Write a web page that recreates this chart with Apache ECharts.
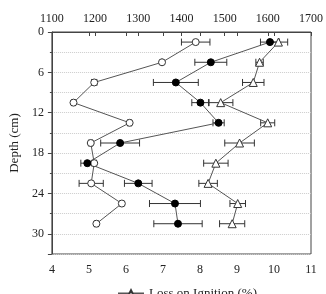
<!DOCTYPE html>
<html><head><meta charset="utf-8">
<script src="https://cdn.jsdelivr.net/npm/echarts@6/dist/echarts.min.js"></script>
<style>html,body{margin:0;padding:0;background:#fff}#c{width:326px;height:294px}</style>
</head><body><div id="c"></div>
<script>
const depths = [1.5, 4.5, 7.5, 10.5, 13.5, 16.5, 19.5, 22.5, 25.5, 28.5];
const openVals = [1433, 1355, 1198, 1150, 1280, 1190, 1198, 1191, 1262, 1203];
const openErr = [33, 0, 6, 4, 4, 4, 5, 28, 4, 4];
const filledVals = [1605, 1468, 1387, 1444, 1486, 1258, 1182, 1300, 1385, 1392];
const filledErr = [22, 37, 52, 20, 13, 45, 15, 32, 59, 56];
const loiVals = [10.12, 9.61, 9.44, 8.56, 9.83, 9.07, 8.43, 8.22, 9.02, 8.87];
const loiErr = [0.25, 0.1, 0.29, 0.33, 0.19, 0.4, 0.33, 0.25, 0.21, 0.34];
const topTicks = [1100, 1200, 1300, 1400, 1500, 1600, 1700];
const bottomTicks = [4, 5, 6, 7, 8, 9, 10, 11];
const depthTicks = [0, 6, 12, 18, 24, 30];

const font = 'Liberation Serif';
const axisCol = '#444';
const lineCol = '#555';

function pts(vals) { return vals.map((v, i) => [v, depths[i]]); }
function errData(vals, errs) { return vals.map((v, i) => [v - errs[i], v + errs[i], depths[i]]); }
function errSeries(vals, errs, xi) {
  return {
    type: 'custom', xAxisIndex: xi, yAxisIndex: 0, silent: true, z: 1,
    data: errData(vals, errs),
    encode: { x: [0, 1], y: 2 },
    renderItem: function (params, api) {
      const a = api.coord([api.value(0), api.value(2)]);
      const b = api.coord([api.value(1), api.value(2)]);
      const h = 3.5;
      const st = { stroke: '#333', lineWidth: 1, fill: null };
      return { type: 'group', children: [
        { type: 'line', shape: { x1: a[0], y1: a[1], x2: b[0], y2: b[1] }, style: st },
        { type: 'line', shape: { x1: a[0], y1: a[1] - h, x2: a[0], y2: a[1] + h }, style: st },
        { type: 'line', shape: { x1: b[0], y1: b[1] - h, x2: b[0], y2: b[1] + h }, style: st }
      ]};
    }
  };
}

const chart = echarts.init(document.getElementById('c'));
chart.setOption({
  animation: false,
  grid: { left: 41, right: 11, top: 32, bottom: 40, show: true, borderColor: axisCol, borderWidth: 1, backgroundColor: 'transparent' },
  legend: {
    data: ['Loss on Ignition (%)'], left: 112, top: 282, itemWidth: 26, itemHeight: 8,
    textStyle: { fontFamily: font, fontSize: 13, color: '#222' }
  },
  xAxis: [
    { type: 'value', position: 'bottom', min: 4, max: 11, interval: 1,
      axisLine: { show: true, lineStyle: { color: axisCol } },
      axisTick: { show: true, length: 4, lineStyle: { color: axisCol } },
      axisLabel: { fontFamily: font, fontSize: 12, color: '#222', margin: 10,
        formatter: v => bottomTicks.includes(v) ? String(v) : '' },
      splitLine: { show: false } },
    { type: 'value', position: 'top', min: 1100, max: 1700, interval: 100,
      axisLine: { show: true, lineStyle: { color: axisCol } },
      axisTick: { show: true, inside: true, length: 4, lineStyle: { color: axisCol } },
      axisLabel: { fontFamily: font, fontSize: 12, color: '#222', margin: 7,
        formatter: v => topTicks.includes(v) ? String(v) : '' },
      splitLine: { show: false } }
  ],
  yAxis: [
    { type: 'value', inverse: true, min: 0, max: 33, interval: 6,
      name: 'Depth (cm)', nameLocation: 'middle', nameGap: 28, nameRotate: 90,
      nameTextStyle: { fontFamily: font, fontSize: 13, color: '#222' },
      axisLine: { show: true, lineStyle: { color: axisCol } },
      axisTick: { show: true, length: 4, lineStyle: { color: axisCol } },
      minorTick: { show: true, splitNumber: 2, length: 2, lineStyle: { color: axisCol } },
      axisLabel: { fontFamily: font, fontSize: 12, color: '#222', margin: 8,
        formatter: v => depthTicks.includes(v) ? String(v) : '' },
      splitLine: { show: true, lineStyle: { color: '#ccc', type: 'dotted', width: 1 } },
      minorSplitLine: { show: true, lineStyle: { color: '#ccc', type: 'dotted', width: 1 } } }
  ],
  series: [
    errSeries(openVals, openErr, 1),
    errSeries(filledVals, filledErr, 1),
    errSeries(loiVals, loiErr, 0),
    { name: 'Open', type: 'line', xAxisIndex: 1, data: pts(openVals), symbol: 'circle', symbolSize: 7,
      lineStyle: { color: lineCol, width: 1 }, itemStyle: { color: '#fff', borderColor: '#333', borderWidth: 1 }, z: 3 },
    { name: 'Filled', type: 'line', xAxisIndex: 1, data: pts(filledVals), symbol: 'circle', symbolSize: 7,
      lineStyle: { color: lineCol, width: 1 }, itemStyle: { color: '#000', borderColor: '#000', borderWidth: 1 }, z: 3 },
    { name: 'Loss on Ignition (%)', type: 'line', xAxisIndex: 0, data: pts(loiVals), symbol: 'triangle', symbolSize: 8,
      lineStyle: { color: lineCol, width: 1 }, itemStyle: { color: '#fff', borderColor: '#333', borderWidth: 1 }, z: 3 }
  ]
});
</script></body></html>
